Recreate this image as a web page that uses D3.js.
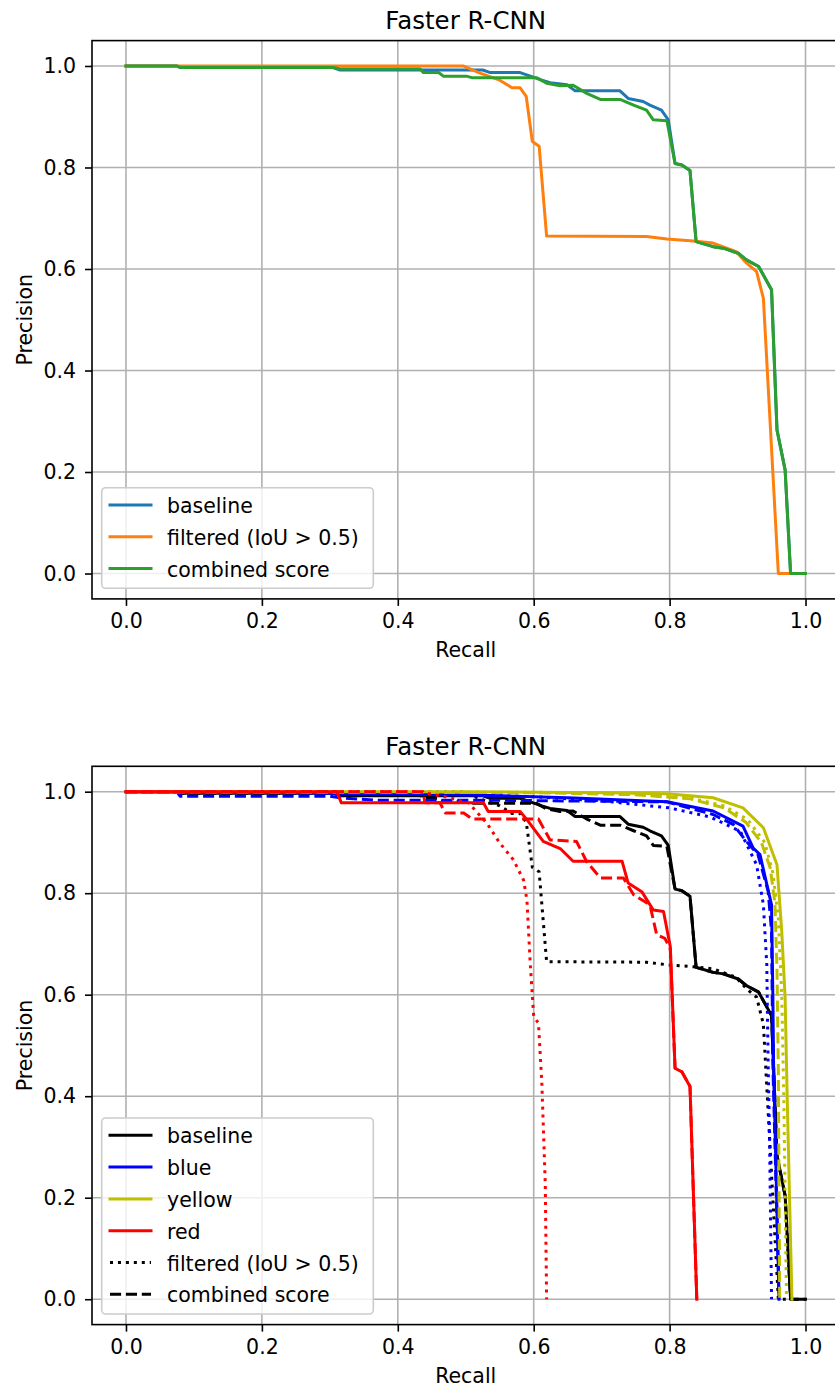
<!DOCTYPE html>
<html>
<head>
<meta charset="utf-8">
<script src="https://cdn.jsdelivr.net/npm/d3@7"></script>
<style>
  body { margin: 0; background: #fff; }
  text { font-family: 'DejaVu Sans', sans-serif; }
</style>
</head>
<body>
<svg id="chart" width="835" height="1389"></svg>
<script>
// ---- Data: [recall, precision] ----
const chartTitle = 'Faster R-CNN';
const xLabel = 'Recall';
const yLabel = 'Precision';
const tickValues = [0, 0.2, 0.4, 0.6, 0.8, 1.0];

const baselinePR = [
  [0, 1.0], [0.075, 1.0], [0.0795, 0.997], [0.305, 0.997], [0.315, 0.992],
  [0.525, 0.992], [0.536, 0.987], [0.58, 0.987], [0.595, 0.98], [0.612, 0.972],
  [0.624, 0.967], [0.649, 0.963], [0.661, 0.951], [0.727, 0.951], [0.739, 0.936],
  [0.761, 0.93], [0.771, 0.923], [0.788, 0.913], [0.798, 0.894], [0.808, 0.808],
  [0.818, 0.805], [0.83, 0.794], [0.839, 0.654], [0.864, 0.644], [0.879, 0.641],
  [0.901, 0.631], [0.913, 0.618], [0.931, 0.605], [0.95, 0.559], [0.958, 0.283],
  [0.97, 0.204], [0.978, 0.0], [1.0, 0.0],
];

const filteredPR = [
  [0, 1.0], [0.496, 1.0], [0.521, 0.986], [0.55, 0.972], [0.568, 0.957],
  [0.58, 0.957], [0.589, 0.94], [0.598, 0.851], [0.608, 0.842], [0.619, 0.665],
  [0.766, 0.664], [0.796, 0.659], [0.835, 0.655], [0.864, 0.651], [0.898, 0.634],
  [0.913, 0.612], [0.928, 0.595], [0.938, 0.542], [0.96, 0.0], [0.98, 0.0],
];

const combinedPR = [
  [0, 1.0], [0.0746, 1.0], [0.0795, 0.997], [0.305, 0.997], [0.315, 0.994],
  [0.433, 0.994], [0.4375, 0.987], [0.46, 0.987], [0.467, 0.98], [0.501, 0.98],
  [0.509, 0.977], [0.604, 0.977], [0.619, 0.966], [0.639, 0.961], [0.658, 0.962],
  [0.678, 0.946], [0.698, 0.934], [0.727, 0.934], [0.747, 0.923], [0.766, 0.913],
  [0.776, 0.894], [0.796, 0.892], [0.808, 0.808], [0.818, 0.805], [0.83, 0.794],
  [0.839, 0.654], [0.864, 0.644], [0.879, 0.641], [0.901, 0.631], [0.913, 0.618],
  [0.931, 0.605], [0.95, 0.559], [0.958, 0.283], [0.97, 0.204], [0.978, 0.0],
  [1.0, 0.0],
];

const blueSolidPR = [
  [0, 1.0], [0.2, 0.999], [0.521, 0.993], [0.65, 0.988], [0.796, 0.98],
  [0.864, 0.962], [0.908, 0.932], [0.923, 0.889], [0.933, 0.876], [0.95, 0.777],
  [0.952, 0.59], [0.953, 0.461], [0.961, 0.0],
];
const blueDottedPR = [
  [0, 1.0], [0.45, 0.997], [0.6, 0.99], [0.7, 0.982], [0.8, 0.968], [0.86, 0.95],
  [0.904, 0.922], [0.928, 0.856], [0.938, 0.777], [0.943, 0.659], [0.945, 0.461],
  [0.947, 0.327], [0.95, 0.0],
];
const blueDashedPR = [
  [0, 1.0], [0.075, 1.0], [0.0795, 0.991], [0.3, 0.991], [0.315, 0.988],
  [0.37, 0.983], [0.55, 0.983], [0.796, 0.98], [0.864, 0.955], [0.894, 0.935],
  [0.913, 0.902], [0.93, 0.876], [0.945, 0.804], [0.95, 0.725], [0.952, 0.461],
  [0.961, 0.0],
];

const yellowSolidPR = [
  [0, 1.0], [0.5, 1.0], [0.7, 0.998], [0.796, 0.996], [0.864, 0.988],
  [0.908, 0.968], [0.938, 0.929], [0.958, 0.856], [0.965, 0.725], [0.97, 0.593],
  [0.973, 0.399], [0.98, 0.0],
];
const yellowDottedPR = [
  [0, 1.0], [0.6, 0.999], [0.75, 0.995], [0.83, 0.988], [0.88, 0.972],
  [0.915, 0.945], [0.94, 0.9], [0.952, 0.84], [0.96, 0.75], [0.965, 0.6],
  [0.968, 0.4], [0.972, 0.0],
];
const yellowDashedPR = [
  [0, 1.0], [0.6, 0.998], [0.75, 0.994], [0.83, 0.986], [0.88, 0.968],
  [0.912, 0.94], [0.935, 0.9], [0.948, 0.85], [0.955, 0.78], [0.958, 0.65],
  [0.96, 0.45], [0.962, 0.0],
];

const redSolidPR = [
  [0, 1.0], [0.31, 1.0], [0.317, 0.978], [0.526, 0.978], [0.533, 0.961],
  [0.58, 0.961], [0.59, 0.945], [0.614, 0.902], [0.639, 0.888], [0.658, 0.863],
  [0.73, 0.863], [0.739, 0.82], [0.759, 0.803], [0.776, 0.767], [0.791, 0.764],
  [0.801, 0.695], [0.808, 0.455], [0.818, 0.448], [0.83, 0.419], [0.84, 0.0],
];
const redDottedPR = [
  [0, 1.0], [0.43, 1.0], [0.47, 0.99], [0.504, 0.978], [0.531, 0.938],
  [0.55, 0.899], [0.57, 0.866], [0.585, 0.826], [0.59, 0.787], [0.595, 0.659],
  [0.6, 0.557], [0.607, 0.544], [0.612, 0.425], [0.617, 0.228], [0.619, 0.0],
];
const redDashedPR = [
  [0, 1.0], [0.437, 1.0], [0.44, 0.978], [0.462, 0.978], [0.47, 0.958],
  [0.497, 0.958], [0.51, 0.946], [0.607, 0.946], [0.624, 0.905], [0.663, 0.902],
  [0.678, 0.862], [0.698, 0.83], [0.732, 0.83], [0.747, 0.797], [0.771, 0.777],
  [0.781, 0.718], [0.793, 0.711], [0.798, 0.698], [0.801, 0.69], [0.808, 0.455],
  [0.818, 0.448], [0.83, 0.419], [0.84, 0.0],
];

const topLegendLabels = ['baseline', 'filtered (IoU > 0.5)', 'combined score'];
const bottomLegendLabels = ['baseline', 'blue', 'yellow', 'red', 'filtered (IoU > 0.5)', 'combined score'];

// ---- Styles (matplotlib look at 144 dpi) ----
const LINE_WIDTH = 3;
const FONT_SIZE = 20.5;
const DASHES = { solid: null, dotted: '3,4.95', dashed: '11.1,4.8' };

// Draw one "Faster R-CNN" precision/recall panel
function drawPanel(svg, panelTop, seriesList, legendItems, clipId) {
  const xscale = d3.scaleLinear().domain([-0.05, 1.05]).range([92, 839.5]);
  const yscale = d3
    .scaleLinear()
    .domain([-0.05, 1.05])
    .range([panelTop + 598.9, panelTop + 40.6]);

  const [left, right] = xscale.range();
  const [bottom, top] = yscale.range();
  const panel = svg.append('g');

  // Grid lines
  const grid = panel.append('g').attr('stroke', '#b0b0b0').attr('stroke-width', 1.6);
  grid
    .selectAll('.vgrid')
    .data(tickValues)
    .enter()
    .append('line')
    .attr('class', 'vgrid')
    .attr('x1', (d) => xscale(d))
    .attr('x2', (d) => xscale(d))
    .attr('y1', top)
    .attr('y2', bottom);
  grid
    .selectAll('.hgrid')
    .data(tickValues)
    .enter()
    .append('line')
    .attr('class', 'hgrid')
    .attr('x1', left)
    .attr('x2', right)
    .attr('y1', (d) => yscale(d))
    .attr('y2', (d) => yscale(d));

  // Clip curves to the axes area
  svg
    .append('clipPath')
    .attr('id', clipId)
    .append('rect')
    .attr('x', left)
    .attr('y', top)
    .attr('width', right - left)
    .attr('height', bottom - top);

  const line = d3
    .line()
    .x((d) => xscale(d[0]))
    .y((d) => yscale(d[1]));

  panel
    .append('g')
    .attr('clip-path', `url(#${clipId})`)
    .selectAll('path')
    .data(seriesList)
    .enter()
    .append('path')
    .attr('d', (s) => line(s.values))
    .attr('fill', 'none')
    .attr('stroke', (s) => s.color)
    .attr('stroke-width', LINE_WIDTH)
    .attr('stroke-linejoin', 'round')
    .attr('stroke-linecap', (s) => (s.style === 'solid' ? 'square' : 'butt'))
    .attr('stroke-dasharray', (s) => DASHES[s.style]);

  // Axes
  const xAxis = d3
    .axisBottom(xscale)
    .tickValues(tickValues)
    .tickFormat(d3.format('.1f'))
    .tickSize(7)
    .tickPadding(8)
    .tickSizeOuter(0);
  panel
    .append('g')
    .attr('transform', `translate(0, ${bottom})`)
    .call(xAxis)
    .call((g) => g.select('.domain').remove())
    .attr('font-size', FONT_SIZE)
    .attr('font-family', 'DejaVu Sans')
    .call((g) => g.selectAll('line').attr('stroke-width', 1.6))
    .call((g) => g.selectAll('text').attr('fill', '#000'));

  const yAxis = d3
    .axisLeft(yscale)
    .tickValues(tickValues)
    .tickFormat(d3.format('.1f'))
    .tickSize(7)
    .tickPadding(9)
    .tickSizeOuter(0);
  panel
    .append('g')
    .attr('transform', `translate(${left}, 0)`)
    .call(yAxis)
    .call((g) => g.select('.domain').remove())
    .attr('font-size', FONT_SIZE)
    .attr('font-family', 'DejaVu Sans')
    .call((g) => g.selectAll('line').attr('stroke-width', 1.6))
    .call((g) => g.selectAll('text').attr('fill', '#000'));

  // Frame
  panel
    .append('rect')
    .attr('x', left)
    .attr('y', top)
    .attr('width', right - left)
    .attr('height', bottom - top)
    .attr('fill', 'none')
    .attr('stroke', '#000')
    .attr('stroke-width', 1.6);

  // Title and axis labels
  panel
    .append('text')
    .attr('x', (left + right) / 2)
    .attr('y', top - 11.7)
    .attr('text-anchor', 'middle')
    .style('font-size', '24.5px')
    .text(chartTitle);

  panel
    .append('text')
    .attr('x', (left + right) / 2)
    .attr('y', bottom + 58)
    .attr('text-anchor', 'middle')
    .style('font-size', `${FONT_SIZE}px`)
    .text(xLabel);

  panel
    .append('text')
    .attr('transform', `translate(32, ${(top + bottom) / 2}) rotate(-90)`)
    .attr('text-anchor', 'middle')
    .style('font-size', `${FONT_SIZE}px`)
    .text(yLabel);

  // Legend (lower left)
  const rowStep = 31.8;
  const boxHeight = 37 + (legendItems.length - 1) * rowStep;
  const boxBottom = bottom - 10.6;
  const boxTop = boxBottom - boxHeight;
  const legend = panel.append('g').attr('class', 'legend');

  legend
    .append('rect')
    .attr('x', 101.7)
    .attr('y', boxTop)
    .attr('width', 271.6)
    .attr('height', boxHeight)
    .attr('rx', 4)
    .attr('fill', '#fff')
    .attr('fill-opacity', 0.8)
    .attr('stroke', '#cccccc')
    .attr('stroke-width', 1.6);

  const rows = legend
    .selectAll('.row')
    .data(legendItems)
    .enter()
    .append('g')
    .attr('class', 'row')
    .attr('transform', (d, i) => `translate(0, ${boxTop + 17.3 + i * rowStep})`);

  rows
    .append('line')
    .attr('x1', 110)
    .attr('x2', 151)
    .attr('stroke', (d) => d.color)
    .attr('stroke-width', LINE_WIDTH)
    .attr('stroke-linecap', (d) => (d.style === 'solid' ? 'square' : 'butt'))
    .attr('stroke-dasharray', (d) => DASHES[d.style]);

  rows
    .append('text')
    .attr('x', 167)
    .attr('y', 8)
    .style('font-size', `${FONT_SIZE}px`)
    .text((d) => d.label);
}

const svg = d3.select('#chart');

// Top panel: three methods in matplotlib default colours
const TAB_COLORS = ['#1f77b4', '#ff7f0e', '#2ca02c'];
const topSeries = [baselinePR, filteredPR, combinedPR].map((values, i) => ({
  values,
  color: TAB_COLORS[i],
  style: 'solid',
}));
const topLegend = topLegendLabels.map((label, i) => ({
  label,
  color: TAB_COLORS[i],
  style: 'solid',
}));
drawPanel(svg, 0, topSeries, topLegend, 'clip-top');

// Bottom panel: per colour class, solid = baseline, dotted = filtered, dashed = combined
const CLASS_COLORS = ['#000000', '#0000ff', '#bfbf00', '#ff0000'];
const bottomGroups = [
  [baselinePR, filteredPR, combinedPR],
  [blueSolidPR, blueDottedPR, blueDashedPR],
  [yellowSolidPR, yellowDottedPR, yellowDashedPR],
  [redSolidPR, redDottedPR, redDashedPR],
];
const bottomSeries = [];
bottomGroups.forEach((group, gi) => {
  ['solid', 'dotted', 'dashed'].forEach((style, si) => {
    bottomSeries.push({ values: group[si], color: CLASS_COLORS[gi], style });
  });
});
const bottomLegendStyles = [
  { color: CLASS_COLORS[0], style: 'solid' },
  { color: CLASS_COLORS[1], style: 'solid' },
  { color: CLASS_COLORS[2], style: 'solid' },
  { color: CLASS_COLORS[3], style: 'solid' },
  { color: '#000000', style: 'dotted' },
  { color: '#000000', style: 'dashed' },
];
const bottomLegend = bottomLegendLabels.map((label, i) => ({ label, ...bottomLegendStyles[i] }));
drawPanel(svg, 725.7, bottomSeries, bottomLegend, 'clip-bottom');
</script>
</body>
</html>
